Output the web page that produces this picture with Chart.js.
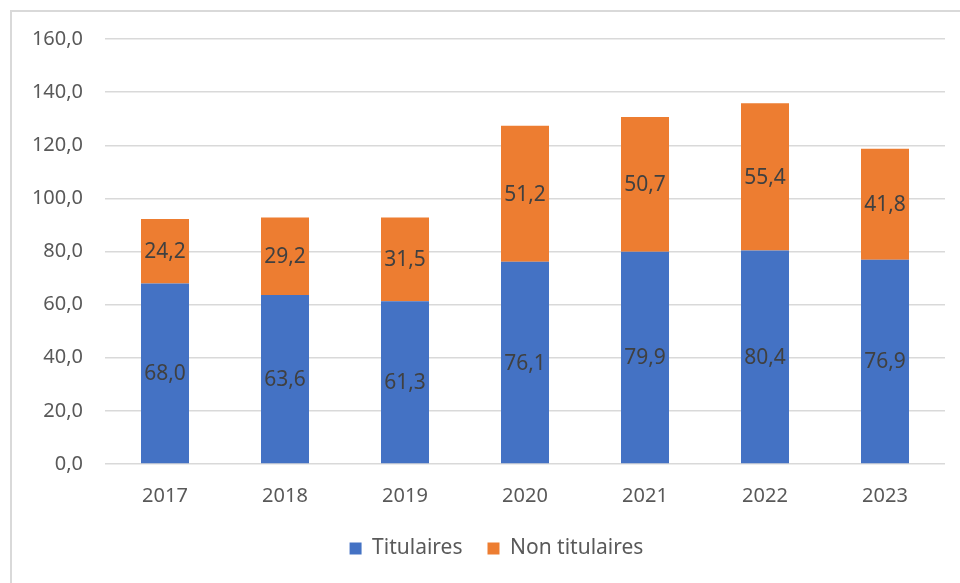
<!DOCTYPE html>
<html>
<head>
<meta charset="utf-8">
<script src="https://cdn.jsdelivr.net/npm/chart.js@4.4.1/dist/chart.umd.min.js"></script>
<style>
  html, body { margin: 0; padding: 0; background: #fff; overflow: hidden; }
  #wrap { position: relative; width: 960px; height: 583px; }
  #frame { position: absolute; left: 10px; top: 10px; width: 970px; height: 600px;
           border: 2px solid #d9d9d9; box-sizing: border-box; }
  canvas { position: absolute; left: 0; top: 0; }
</style>
</head>
<body>
<div id="wrap">
  <div id="frame"></div>
  <canvas id="myChart" width="960" height="583"></canvas>
</div>
<script>
// categories
var years = ['2017', '2018', '2019', '2020', '2021', '2022', '2023'];
// series values
var titulaires = [68.0, 63.6, 61.3, 76.1, 79.9, 80.4, 76.9];
var nonTitulaires = [24.2, 29.2, 31.5, 51.2, 50.7, 55.4, 41.8];

function fr(v) { return Number(v).toFixed(1).replace('.', ','); }

var FONT = "'Noto Sans', 'Open Sans', sans-serif";

// draws value labels in the middle of each bar segment
var barLabels = {
  id: 'barLabels',
  afterLayout: function (chart) {
    // legend sits a bit right of the canvas centre in the original
    chart.legend.left += 38;
  },
  afterDatasetsDraw: function (chart) {
    var ctx = chart.ctx;
    ctx.save();
    ctx.font = '21px ' + FONT;
    ctx.fillStyle = '#404040';
    ctx.textAlign = 'center';
    ctx.textBaseline = 'middle';
    chart.data.datasets.forEach(function (ds, i) {
      chart.getDatasetMeta(i).data.forEach(function (bar, j) {
        var mid = (bar.y + bar.base) / 2;
        ctx.fillText(fr(ds.data[j]), bar.x, mid + 1);
      });
    });
    ctx.restore();
  }
};

var ctx = document.getElementById('myChart');
var myChart = new Chart(ctx, {
  type: 'bar',
  data: {
    labels: years,
    datasets: [
      { label: 'Titulaires', data: titulaires, backgroundColor: '#4472C4',
        barPercentage: 0.4, categoryPercentage: 1 },
      { label: 'Non titulaires', data: nonTitulaires, backgroundColor: '#ED7D31',
        barPercentage: 0.4, categoryPercentage: 1 }
    ]
  },
  options: {
    responsive: false,
    animation: false,
    layout: { padding: { left: 10, right: 15, top: 39, bottom: 14 } },
    plugins: {
      legend: {
        position: 'bottom',
        labels: {
          color: '#595959',
          font: { family: FONT, size: 21 },
          boxWidth: 12, boxHeight: 12, padding: 25
        }
      },
      tooltip: { enabled: false }
    },
    scales: {
      x: {
        stacked: true,
        grid: { display: false, drawTicks: false },
        border: { display: false },
        ticks: { color: '#595959', font: { family: FONT, size: 20 }, padding: 20 },
        afterFit: function (s) { s.height = 49; }
      },
      y: {
        stacked: true,
        min: 0, max: 160,
        ticks: { stepSize: 20, color: '#595959', font: { family: FONT, size: 20 }, padding: 22,
                 callback: function (v) { return fr(v); } },
        grid: { color: '#d9d9d9', lineWidth: 1.5, drawTicks: false },
        border: { display: false },
        afterFit: function (s) { s.width = 95; }
      }
    }
  },
  plugins: [barLabels]
});
</script>
</body>
</html>
